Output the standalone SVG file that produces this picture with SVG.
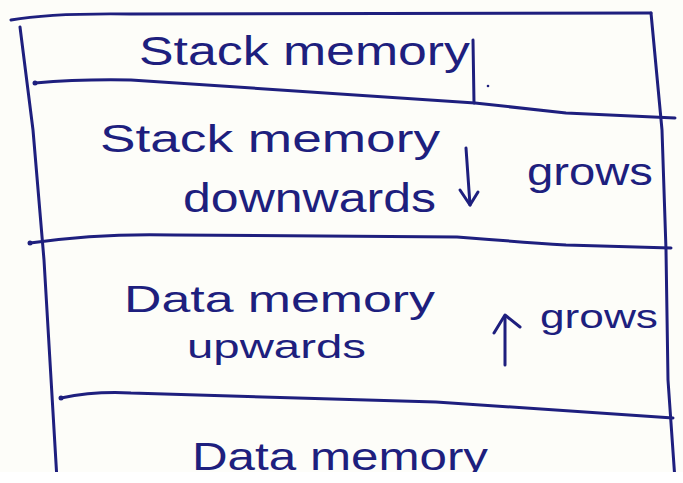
<svg xmlns="http://www.w3.org/2000/svg" width="683" height="483" viewBox="0 0 683 483">
  <style>
    .ink { fill: none; stroke: #1e1f7e; stroke-width: 3; stroke-linecap: round; stroke-linejoin: round; }
    .hand { font-family: "Liberation Sans", "DejaVu Sans", sans-serif; fill: #1e1f7e; font-weight: normal; }
    .dot { fill: #1e1f7e; }
  </style>
  <defs>
    <clipPath id="page"><rect x="0" y="0" width="683" height="472"/></clipPath>
  </defs>
  <rect x="0" y="0" width="683" height="483" fill="#ffffff"/>
  <rect x="0" y="0" width="683" height="472" fill="#fdfdf9"/>

  <g clip-path="url(#page)">
    <!-- outer frame: slanted hand-drawn sides -->
    <g id="frame">
      <path class="ink" d="M11,20 Q50,13 130,14 L651,13"/>
      <path class="ink" d="M20,27 L33,130 L44,260 L57,480"/>
      <path class="ink" d="M651,13 L662,130 L666,250 L668,380 L675,480"/>
    </g>

    <!-- section: stack memory header -->
    <g id="stack-header">
      <path class="ink" d="M35,83 Q80,79 131,80 L475,103 Q520,108 566,113 L675,118"/>
      <path class="ink" d="M473,40 L474,103"/>
      <circle class="dot" cx="488" cy="86" r="1.3"/>
      <circle class="dot" cx="35" cy="83" r="2.5"/>
      <text class="hand" x="139" y="65" font-size="40" textLength="331" lengthAdjust="spacingAndGlyphs">Stack memory</text>
    </g>

    <!-- section: stack grows downwards -->
    <g id="stack-grows">
      <path class="ink" d="M30,243 Q100,233 174,235 L457,237 Q520,242 566,245 L671,248"/>
      <circle class="dot" cx="30" cy="243" r="2.5"/>
      <text class="hand" x="100" y="152" font-size="38" textLength="340" lengthAdjust="spacingAndGlyphs">Stack memory</text>
      <text class="hand" x="183" y="212" font-size="40" textLength="253" lengthAdjust="spacingAndGlyphs">downwards</text>
      <text class="hand" x="527" y="185" font-size="38" textLength="126" lengthAdjust="spacingAndGlyphs">grows</text>
    </g>

    <!-- section: data grows upwards -->
    <g id="data-grows">
      <path class="ink" d="M61,398 Q95,391 131,393 L436,402 L673,418"/>
      <circle class="dot" cx="61" cy="398" r="2.5"/>
      <text class="hand" x="124" y="312" font-size="36" textLength="311" lengthAdjust="spacingAndGlyphs">Data memory</text>
      <text class="hand" x="187" y="358" font-size="34" textLength="179" lengthAdjust="spacingAndGlyphs">upwards</text>
      <text class="hand" x="540" y="328" font-size="34" textLength="118" lengthAdjust="spacingAndGlyphs">grows</text>
    </g>

    <!-- section: data memory -->
    <g id="data-memory">
      <text class="hand" x="192" y="470" font-size="38" textLength="296" lengthAdjust="spacingAndGlyphs">Data memory</text>
    </g>

    <!-- growth arrows -->
    <g id="connectors">
      <path class="ink" d="M466,148 L470,205"/>
      <path class="ink" d="M460,190 L470,205 L478,192"/>
      <path class="ink" d="M505,365 L505,316"/>
      <path class="ink" d="M494,333 L505,315 L520,327"/>
    </g>
  </g>
</svg>
